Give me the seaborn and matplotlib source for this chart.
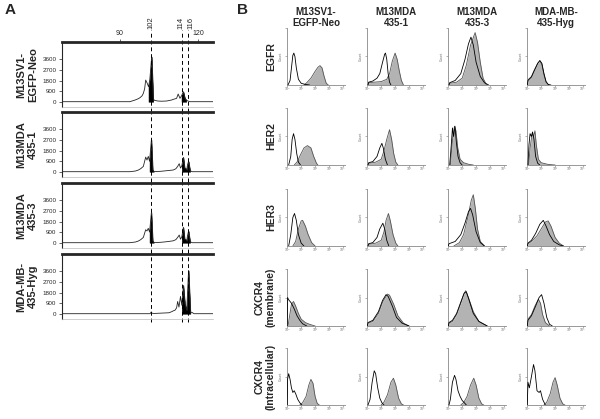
import matplotlib.pyplot as plt
from matplotlib import transforms
import seaborn as sns

sns.set_style('ticks')
plt.rcParams['font.family'] = ['Liberation Sans', 'DejaVu Sans']

W, H = 600, 419

# ---------- panel A : elution profiles (time, abundance) ----------
a_names = ['M13SV1-\nEGFP-Neo', 'M13MDA\n435-1', 'M13MDA\n435-3', 'MDA-MB-\n435-Hyg']
a_marks = [102, 114, 116]
a_ticks = [0, 900, 1800, 2700, 3600]

t1 = [67.7, 93.8, 95.8, 97.0, 97.7, 98.5, 99.0, 99.5, 99.9, 100.5, 101.0, 101.5, 102.2, 102.8, 103.2,
      104.5, 106.0, 108.0, 110.0, 110.5, 111.5, 111.8, 112.4, 113.1, 113.7, 114.4, 115.0, 115.5, 115.9,
      116.9, 125.8]
v1 = [0, 0, 140, 250, 340, 500, 710, 1100, 1840, 1560, 1270, 1900, 3820, 290, 120,
      60, 40, 60, 150, 200, 260, 290, 650, 290, 500, 850, 290, 150, 85,
      0, 0]
t2 = [67.7, 93.8, 96.0, 97.1, 98.0, 99.0, 99.9, 100.4, 100.9, 101.4, 102.1, 102.6, 103.0, 104.5, 106.0,
      108.0, 110.5, 111.5, 112.2, 112.8, 113.3, 113.8, 114.4, 114.9, 115.4, 115.7, 116.0, 116.4, 117.0,
      117.8, 125.8]
v2 = [0, 0, 60, 144, 260, 450, 1240, 990, 1300, 880, 2720, 144, 30, 20, 40,
      85, 144, 250, 450, 680, 310, 500, 1220, 310, 250, 144, 600, 880, 85,
      0, 0]
t3 = [67.7, 93.8, 96.0, 97.1, 98.0, 99.0, 99.9, 100.4, 100.9, 101.4, 102.1, 102.6, 103.0, 104.5, 106.0,
      108.0, 110.5, 111.5, 112.2, 112.8, 113.3, 113.8, 114.4, 114.9, 115.4, 115.7, 116.0, 116.4, 117.0,
      117.8, 125.8]
v3 = [0, 0, 60, 144, 260, 450, 1100, 1000, 1220, 900, 2580, 144, 30, 20, 40,
      85, 160, 260, 450, 650, 300, 500, 1310, 300, 250, 150, 600, 990, 85,
      0, 0]
t4 = [67.7, 101.6, 102.0, 102.4, 103.0, 105.0, 107.0, 108.9, 110.0, 110.5, 111.2, 111.8, 112.2, 112.7,
      113.3, 113.8, 114.4, 115.0, 115.7, 116.4, 117.1, 117.8, 118.5, 125.8]
v4 = [0, 0, 140, 40, 20, 40, 60, 80, 180, 240, 300, 500, 1040, 560,
      1470, 720, 2400, 850, 280, 3680, 140, 100, 0, 0]
a_fill = [[(100.6, 103.1), (113.5, 115.7)],
          [(101.2, 103.0), (113.6, 117.0)],
          [(101.2, 103.0), (113.6, 117.0)],
          [(113.6, 117.2)]]
a_traces = [(t1, v1), (t2, v2), (t3, v3), (t4, v4)]

# ---------- panel B : flow cytometry histograms (log decade, rel. count) ----------
b_cols = ['M13SV1-\nEGFP-Neo', 'M13MDA\n435-1', 'M13MDA\n435-3', 'MDA-MB-\n435-Hyg']
b_rows = ['EGFR', 'HER2', 'HER3', 'CXCR4\n(membrane)', 'CXCR4\n(Intracellular)']
decades = ['10⁰', '10¹', '10²', '10³', '10⁴']

egfr_ctrl = [
    [(0.05, 0), (0.2, 0.08), (0.3, 0.3), (0.4, 0.52), (0.47, 0.56), (0.55, 0.5), (0.65, 0.3), (0.8, 0.1), (1.0, 0.03), (1.3, 0.01), (1.6, 0)],
    [(0.05, 0), (0.1, 0.05), (0.4, 0.07), (0.7, 0.12), (0.9, 0.2), (1.1, 0.4), (1.25, 0.54), (1.31, 0.56), (1.4, 0.45), (1.5, 0.2), (1.6, 0.05), (1.7, 0)],
    [(0.05, 0), (0.1, 0.04), (0.5, 0.08), (0.9, 0.2), (1.2, 0.45), (1.45, 0.72), (1.63, 0.84), (1.8, 0.7), (2.0, 0.4), (2.3, 0.15), (2.6, 0.04), (2.9, 0)],
    [(0.0, 0), (0.05, 0.08), (0.3, 0.14), (0.5, 0.25), (0.75, 0.38), (0.9, 0.43), (1.05, 0.38), (1.2, 0.2), (1.35, 0.06), (1.5, 0.01), (1.7, 0)],
]
egfr_stain = [
    [(1.2, 0), (1.4, 0.04), (1.7, 0.12), (2.0, 0.24), (2.2, 0.31), (2.35, 0.34), (2.5, 0.3), (2.65, 0.15), (2.8, 0.03), (2.95, 0)],
    [(0.05, 0), (0.1, 0.04), (0.5, 0.05), (1.0, 0.06), (1.4, 0.1), (1.6, 0.2), (1.8, 0.42), (2.0, 0.56), (2.15, 0.45), (2.3, 0.25), (2.45, 0.08), (2.6, 0)],
    [(0.05, 0), (0.1, 0.03), (0.6, 0.05), (1.0, 0.12), (1.3, 0.35), (1.6, 0.7), (1.93, 0.92), (2.1, 0.75), (2.3, 0.4), (2.5, 0.12), (2.75, 0)],
    [(0.0, 0), (0.05, 0.09), (0.3, 0.15), (0.5, 0.26), (0.75, 0.38), (0.92, 0.42), (1.05, 0.36), (1.2, 0.18), (1.35, 0.05), (1.55, 0)],
]
her2_ctrl = [
    [(0.1, 0), (0.25, 0.15), (0.35, 0.45), (0.45, 0.55), (0.55, 0.45), (0.68, 0.2), (0.8, 0.05), (0.95, 0)],
    [(0.05, 0), (0.1, 0.04), (0.4, 0.06), (0.7, 0.15), (0.9, 0.3), (1.05, 0.38), (1.15, 0.3), (1.3, 0.1), (1.45, 0)],
    [(0.1, 0), (0.2, 0.3), (0.3, 0.65), (0.38, 0.5), (0.48, 0.68), (0.58, 0.4), (0.7, 0.15), (0.85, 0.04), (1.0, 0)],
    [(0.05, 0), (0.12, 0.35), (0.2, 0.55), (0.3, 0.5), (0.38, 0.58), (0.48, 0.45), (0.6, 0.15), (0.75, 0.03), (0.9, 0)],
]
her2_stain = [
    [(0.5, 0), (0.7, 0.05), (0.95, 0.18), (1.2, 0.3), (1.45, 0.34), (1.7, 0.3), (1.9, 0.15), (2.1, 0.03), (2.2, 0)],
    [(0.05, 0), (0.1, 0.03), (0.6, 0.05), (1.0, 0.1), (1.2, 0.25), (1.4, 0.45), (1.6, 0.62), (1.75, 0.45), (1.9, 0.2), (2.05, 0.05), (2.2, 0)],
    [(0.15, 0), (0.25, 0.3), (0.35, 0.55), (0.45, 0.68), (0.55, 0.6), (0.68, 0.3), (0.85, 0.1), (1.1, 0.04), (1.5, 0.01), (1.8, 0)],
    [(0.1, 0), (0.2, 0.3), (0.35, 0.55), (0.45, 0.5), (0.55, 0.6), (0.65, 0.35), (0.8, 0.1), (1.0, 0.04), (1.5, 0.01), (2.0, 0)],
]
her3_ctrl = [
    [(0.1, 0), (0.25, 0.2), (0.4, 0.5), (0.52, 0.57), (0.65, 0.45), (0.8, 0.2), (1.0, 0.05), (1.2, 0)],
    [(0.05, 0), (0.1, 0.04), (0.4, 0.06), (0.7, 0.15), (0.9, 0.3), (1.12, 0.4), (1.25, 0.3), (1.4, 0.1), (1.55, 0)],
    [(0.0, 0), (0.05, 0.04), (0.5, 0.08), (0.9, 0.2), (1.2, 0.4), (1.45, 0.6), (1.6, 0.66), (1.75, 0.55), (2.0, 0.25), (2.3, 0.06), (2.6, 0)],
    [(0.0, 0), (0.05, 0.05), (0.3, 0.1), (0.6, 0.22), (0.9, 0.38), (1.15, 0.45), (1.35, 0.35), (1.6, 0.2), (1.9, 0.08), (2.3, 0.02), (2.6, 0)],
]
her3_stain = [
    [(0.4, 0), (0.6, 0.08), (0.8, 0.3), (1.0, 0.44), (1.1, 0.45), (1.3, 0.35), (1.5, 0.2), (1.75, 0.06), (2.0, 0)],
    [(0.05, 0), (0.1, 0.03), (0.6, 0.05), (1.0, 0.1), (1.2, 0.25), (1.35, 0.45), (1.52, 0.57), (1.65, 0.45), (1.85, 0.2), (2.05, 0.05), (2.2, 0)],
    [(0.4, 0), (0.8, 0.06), (1.1, 0.2), (1.4, 0.5), (1.65, 0.8), (1.8, 0.9), (1.95, 0.65), (2.1, 0.3), (2.3, 0.08), (2.6, 0)],
    [(0.0, 0), (0.05, 0.04), (0.3, 0.08), (0.7, 0.18), (1.0, 0.3), (1.3, 0.42), (1.5, 0.44), (1.7, 0.35), (2.0, 0.15), (2.3, 0.05), (2.6, 0)],
]
cxcr4m_ctrl = [
    [(0.0, 0), (0.02, 0.5), (0.1, 0.46), (0.3, 0.4), (0.5, 0.3), (0.7, 0.18), (0.9, 0.1), (1.1, 0.04), (1.4, 0)],
    [(0.0, 0), (0.05, 0.06), (0.4, 0.1), (0.8, 0.25), (1.1, 0.45), (1.35, 0.55), (1.5, 0.52), (1.8, 0.35), (2.1, 0.15), (2.5, 0.05), (3.0, 0)],
    [(0.0, 0), (0.05, 0.06), (0.3, 0.1), (0.6, 0.22), (0.9, 0.42), (1.15, 0.58), (1.3, 0.6), (1.5, 0.45), (1.8, 0.22), (2.2, 0.08), (2.8, 0)],
    [(0.0, 0), (0.05, 0.1), (0.3, 0.18), (0.6, 0.35), (0.85, 0.5), (1.03, 0.55), (1.2, 0.4), (1.4, 0.15), (1.6, 0.03), (1.8, 0)],
]
cxcr4m_stain = [
    [(0.05, 0), (0.15, 0.15), (0.3, 0.38), (0.45, 0.43), (0.6, 0.35), (0.8, 0.22), (1.0, 0.12), (1.3, 0.06), (1.6, 0.03), (2.0, 0)],
    [(0.0, 0), (0.05, 0.05), (0.4, 0.08), (0.8, 0.22), (1.1, 0.42), (1.45, 0.56), (1.6, 0.54), (1.9, 0.38), (2.2, 0.18), (2.6, 0.05), (3.0, 0)],
    [(0.0, 0), (0.05, 0.05), (0.3, 0.08), (0.6, 0.2), (0.9, 0.4), (1.1, 0.55), (1.25, 0.62), (1.45, 0.5), (1.8, 0.25), (2.2, 0.08), (2.8, 0)],
    [(0.0, 0), (0.05, 0.12), (0.3, 0.2), (0.55, 0.35), (0.8, 0.47), (0.95, 0.4), (1.1, 0.2), (1.3, 0.06), (1.6, 0)],
]
cxcr4i_ctrl = [
    [(0.0, 0), (0.02, 0.45), (0.1, 0.55), (0.2, 0.45), (0.3, 0.3), (0.4, 0.22), (0.5, 0.25), (0.6, 0.2), (0.75, 0.1), (0.9, 0.04), (1.05, 0)],
    [(0.05, 0), (0.2, 0.1), (0.35, 0.4), (0.5, 0.6), (0.6, 0.55), (0.75, 0.3), (0.9, 0.12), (1.05, 0.04), (1.2, 0)],
    [(0.05, 0), (0.15, 0.1), (0.3, 0.4), (0.45, 0.52), (0.55, 0.45), (0.7, 0.25), (0.85, 0.15), (1.0, 0.08), (1.3, 0)],
    [(0.0, 0), (0.05, 0.4), (0.15, 0.3), (0.3, 0.5), (0.45, 0.71), (0.55, 0.6), (0.7, 0.25), (0.85, 0.22), (0.95, 0.25), (1.1, 0.1), (1.3, 0)],
]
cxcr4i_stain = [
    [(0.9, 0), (1.1, 0.04), (1.35, 0.15), (1.55, 0.35), (1.7, 0.45), (1.85, 0.38), (2.0, 0.15), (2.15, 0.03), (2.3, 0)],
    [(1.0, 0), (1.2, 0.05), (1.45, 0.18), (1.7, 0.4), (1.88, 0.47), (2.05, 0.35), (2.25, 0.12), (2.45, 0.02), (2.6, 0)],
    [(0.9, 0), (1.1, 0.04), (1.35, 0.15), (1.6, 0.35), (1.83, 0.47), (2.0, 0.35), (2.2, 0.12), (2.4, 0.02), (2.55, 0)],
    [(1.2, 0), (1.4, 0.05), (1.65, 0.2), (1.85, 0.4), (2.0, 0.48), (2.15, 0.35), (2.35, 0.12), (2.55, 0.02), (2.7, 0)],
]
b_ctrl = [egfr_ctrl, her2_ctrl, her3_ctrl, cxcr4m_ctrl, cxcr4i_ctrl]
b_stain = [egfr_stain, her2_stain, her3_stain, cxcr4m_stain, cxcr4i_stain]


def px(left, top, w, h):
    return [left / W, 1 - (top + h) / H, w / W, h / H]


fig = plt.figure(figsize=(6, 4.19), dpi=100)
fig.text(10 / W, 1 - 10 / H, 'A', fontsize=11, fontweight='bold', ha='center', va='center')
fig.text(242 / W, 1 - 10 / H, 'B', fontsize=11, fontweight='bold', ha='center', va='center')

# panel A
a_tops = [42, 112, 183, 254]
label_shift = {102: 0, 114: -1.2, 116: 2.2}  # points, keeps 114/116 apart
for i, (t, v) in enumerate(a_traces):
    ax = fig.add_axes(px(62, a_tops[i], 151, 65))
    sns.lineplot(x=t, y=v, sort=False, estimator=None, color='#222222', lw=0.6, ax=ax)
    for lo, hi in a_fill[i]:
        mask = [lo <= x <= hi for x in t]
        ax.fill_between(t, v, where=mask, color='black', lw=0.4, interpolate=False)
    ax.set_xlim(67.7, 125.8)
    ax.set_ylim(-450, 5070)
    ax.set_yticks(a_ticks)
    ax.set_yticklabels([str(k) for k in a_ticks])
    ax.tick_params(axis='y', labelsize=4.5, length=2, width=0.5, pad=2)
    ax.spines['top'].set_linewidth(2)
    ax.spines['left'].set_linewidth(0.8)
    ax.spines['right'].set_visible(False)
    ax.spines['bottom'].set_color('#bbbbbb')
    ax.spines['bottom'].set_linewidth(0.5)
    if i == 0:
        ax.set_xticks([90, 120])
        ax.tick_params(axis='x', top=True, labeltop=True, bottom=False, labelbottom=False,
                       labelsize=5, length=2, width=0.5, pad=1.5)
        ymax = 1 + 12 / 65
        tr = transforms.blended_transform_factory(ax.transData, ax.transAxes)
        for m in a_marks:
            tr_m = transforms.offset_copy(tr, fig=fig, x=label_shift[m], y=0, units='points')
            ax.text(m, ymax + 0.01, str(m), rotation=90, fontsize=5.5, ha='center', va='bottom',
                    transform=tr_m)
    else:
        ax.set_xticks([])
        ymax = 1 + 5 / 65
    ymin = -3 / 65 if i == 3 else -5 / 65
    for m in a_marks:
        ax.axvline(m, ymin=ymin, ymax=ymax, color='black', lw=0.7, ls=(0, (4, 3)), clip_on=False)
    ax.set_xlabel('')
    ax.set_ylabel('')
    ax.text(-0.16, 0.5, a_names[i], rotation=90, transform=ax.transAxes, fontsize=8,
            fontweight='bold', ha='right', va='center', multialignment='center')

# panel B
b_lefts = [287, 367, 448, 527]
b_tops = [28, 108, 189, 269, 348]
for r in range(len(b_rows)):
    for c in range(len(b_cols)):
        ax = fig.add_axes(px(b_lefts[c], b_tops[r], 58, 57))
        sx = [p[0] for p in b_stain[r][c]]
        sy = [p[1] for p in b_stain[r][c]]
        cx = [p[0] for p in b_ctrl[r][c]]
        cy = [p[1] for p in b_ctrl[r][c]]
        ax.fill_between(sx, sy, color='#b3b3b3', lw=0, zorder=1)
        sns.lineplot(x=sx, y=sy, sort=False, estimator=None, color='#555555', lw=0.6, ax=ax, zorder=2)
        sns.lineplot(x=cx, y=cy, sort=False, estimator=None, color='black', lw=0.6, ax=ax, zorder=3)
        ax.set_xlim(-0.02, 4.15)
        ax.set_ylim(0, 1.0)
        ax.set_xticks(range(5))
        ax.set_xticklabels(decades)
        ax.set_yticks([0.5, 1.0])
        ax.set_yticklabels(['', ''])
        ax.tick_params(labelsize=2.5, length=1.2, width=0.4, pad=0.5, colors='#777777')
        for s in ['top', 'right']:
            ax.spines[s].set_visible(False)
        for s in ['left', 'bottom']:
            ax.spines[s].set_color('#888888')
            ax.spines[s].set_linewidth(0.6)
        ax.set_xlabel('')
        ax.set_ylabel('Count', fontsize=2.5, color='#777777', labelpad=1)
        if r == 0:
            ax.set_title(b_cols[c], fontsize=7, fontweight='bold', pad=1.5, linespacing=1.1)
        if c == 0:
            ax.text(-0.19, 0.5, b_rows[r], rotation=90, transform=ax.transAxes, fontsize=7.5,
                    fontweight='bold', ha='right', va='center', multialignment='center')

fig.savefig('out.png', dpi=100)
